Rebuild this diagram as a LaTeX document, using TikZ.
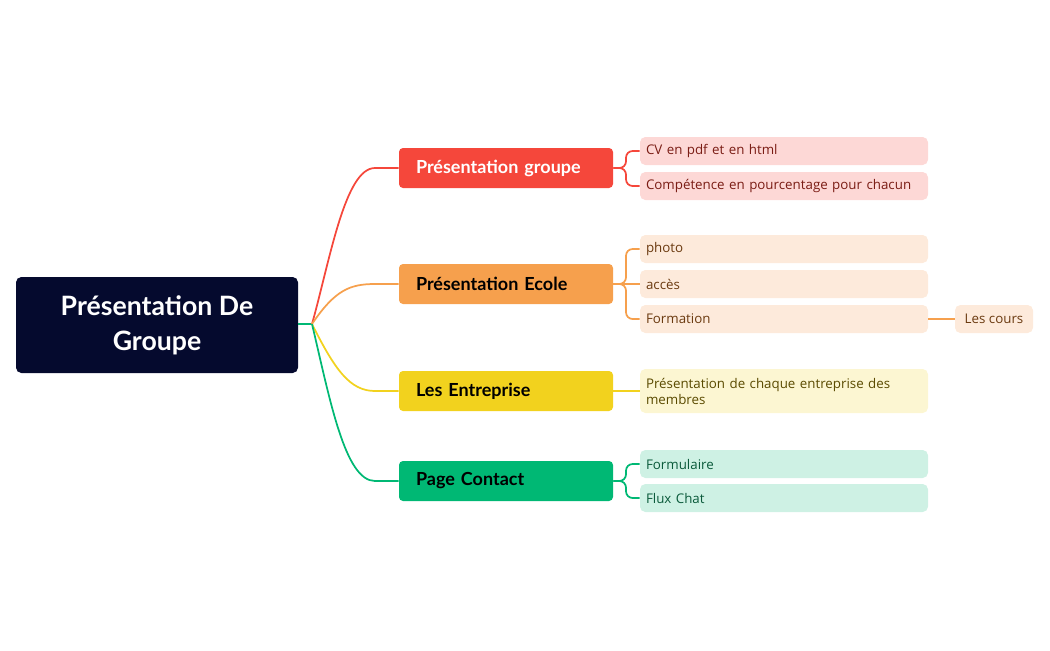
\documentclass[tikz,border=0pt]{standalone}
\usepackage{fontspec}
\setmainfont{Lato}
\newfontfamily\leaffont{Open Sans}
\begin{document}
\begin{tikzpicture}[x=0.75pt,y=-0.75pt,
 br/.style={rounded corners=3pt,minimum width=214*0.75pt,minimum height=40*0.75pt,inner sep=0pt,font=\fontsize{13.5}{15}\selectfont\bfseries,text width=180*0.75pt,align=left},
 lf/.style={rounded corners=4pt,minimum width=288*0.75pt,minimum height=28*0.75pt,inner sep=0pt,font=\leaffont\fontsize{10}{12}\selectfont,text width=276*0.75pt,align=left},
 cn/.style={line width=1.3pt,rounded corners=5pt}]
\useasboundingbox (0,0) rectangle (1050,650);
\definecolor{navy}{HTML}{050A2E}
\definecolor{cR}{HTML}{F5473B}\definecolor{lR}{HTML}{FDD8D6}\definecolor{tR}{HTML}{7A1C14}
\definecolor{cO}{HTML}{F6A04D}\definecolor{lO}{HTML}{FDEADB}\definecolor{tO}{HTML}{6B3A10}
\definecolor{cY}{HTML}{F2D21E}\definecolor{lY}{HTML}{FCF6D2}\definecolor{tY}{HTML}{5A4A00}
\definecolor{cG}{HTML}{00B874}\definecolor{lG}{HTML}{CEF1E4}\definecolor{tG}{HTML}{0A5A3A}

\node[fill=navy,rounded corners=4pt,minimum width=282*0.75pt,minimum height=96*0.75pt,text=white,align=center,font=\fontsize{20}{26}\selectfont\bfseries] (root) at (157,325) {Présentation De\\Groupe};
\coordinate (hub) at (312,324);
\draw[cG,line width=1.3pt] (root.east |- hub) -- (hub);

\node[br,fill=cR,text=white] (b1) at (506,168) {Présentation groupe};
\node[br,fill=cO] (b2) at (506,284) {Présentation Ecole};
\node[br,fill=cY] (b3) at (506,391) {Les Entreprise};
\node[br,fill=cG] (b4) at (506,481) {Page Contact};

\draw[cR,line width=1.3pt] (hub) .. controls (330,260) and (345,168) .. (375,168) -- (b1.west);
\draw[cO,line width=1.3pt] (hub) .. controls (335,290) and (350,284) .. (375,284) -- (b2.west);
\draw[cY,line width=1.3pt] (hub) .. controls (335,370) and (350,391) .. (375,391) -- (b3.west);
\draw[cG,line width=1.3pt] (hub) .. controls (330,400) and (345,481) .. (375,481) -- (b4.west);

\node[lf,fill=lR,text=tR] (l1) at (784,151) {CV en pdf et en html};
\node[lf,fill=lR,text=tR] (l2) at (784,186) {Compétence en pourcentage pour chacun};
\node[lf,fill=lO,text=tO] (l3) at (784,249) {photo};
\node[lf,fill=lO,text=tO] (l4) at (784,284) {accès};
\node[lf,fill=lO,text=tO] (l5) at (784,319) {Formation};
\node[lf,fill=lY,text=tY,minimum height=44*0.75pt] (l6) at (784,391) {Présentation de chaque entreprise des membres};
\node[lf,fill=lG,text=tG] (l7) at (784,464) {Formulaire};
\node[lf,fill=lG,text=tG] (l8) at (784,498) {Flux Chat};
\node[fill=lO,text=tO,rounded corners=4pt,minimum width=78*0.75pt,minimum height=28*0.75pt,inner sep=0pt,font=\leaffont\fontsize{10}{12}\selectfont] (l9) at (994,319) {Les cours};

\draw[cn,cR] (b1.east) -- (626,168) |- (l1.west);
\draw[cn,cR] (b1.east) -- (626,168) |- (l2.west);
\draw[cn,cO] (b2.east) -- (626,284) |- (l3.west);
\draw[cn,cO] (b2.east) -- (l4.west);
\draw[cn,cO] (b2.east) -- (626,284) |- (l5.west);
\draw[cn,cY] (b3.east) -- (l6.west);
\draw[cn,cG] (b4.east) -- (626,481) |- (l7.west);
\draw[cn,cG] (b4.east) -- (626,481) |- (l8.west);
\draw[cn,cO] (l5.east) -- (l9.west);
\end{tikzpicture}
\end{document}
